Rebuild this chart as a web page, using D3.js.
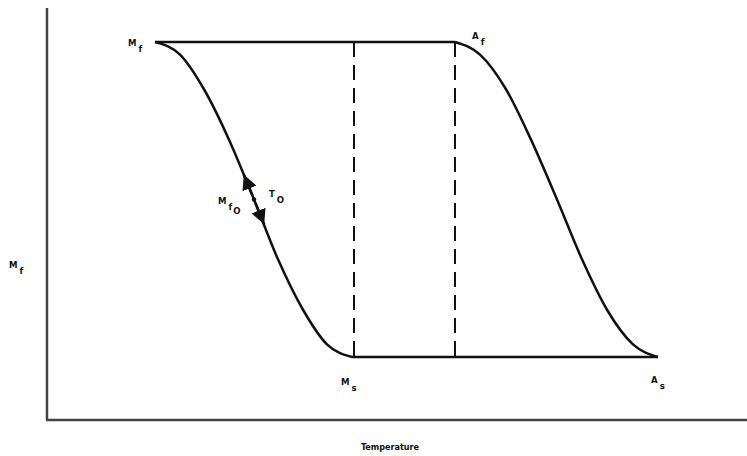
<!DOCTYPE html>
<html>
<head>
<meta charset="utf-8">
<script src="https://cdn.jsdelivr.net/npm/d3@7"></script>
<style>
  body { margin: 0; background: #fff; }
  text { font-family: "DejaVu Sans Condensed", "DejaVu Sans", sans-serif; font-weight: bold; fill: #111; }
</style>
</head>
<body>
<svg id="chart"></svg>
<script>
// temperature (arbitrary units) vs. martensite fraction
const coolTemp = [108, 133, 157, 182, 207, 231, 256, 280, 305];
const coolFrac = [1, 0.96, 0.85, 0.69, 0.5, 0.31, 0.15, 0.04, 0];
const heatTemp = [408, 433, 459, 484, 510, 535, 560, 586, 611];
const heatFrac = [1, 0.96, 0.85, 0.69, 0.5, 0.31, 0.15, 0.04, 0];
const dashTemp = [307, 408];
const pointNames = [
  { t: 108, f: 1, main: "M", sub: "f", dx: -27, dy: 4 },
  { t: 408, f: 1, main: "A", sub: "f", dx: 17, dy: -3 },
  { t: 305, f: 0, main: "M", sub: "s", dx: -11, dy: 28 },
  { t: 611, f: 0, main: "A", sub: "s", dx: -7, dy: 26 }
];

const width = 747;
const height = 456;
const svg = d3.select("#chart").attr("width", width).attr("height", height);

const x = d3.scaleLinear().domain([0, 700]).range([47, 747]);
const y = d3.scaleLinear().domain([0, 1]).range([357, 42]);

// axes (plain lines, no ticks)
svg.append("line")
  .attr("x1", x(0)).attr("x2", x(0))
  .attr("y1", y(1.108)).attr("y2", y(-0.2))
  .attr("stroke", "#444").attr("stroke-width", 2.5);
svg.append("line")
  .attr("x1", x(0) - 1).attr("x2", x(700))
  .attr("y1", y(-0.2)).attr("y2", y(-0.2))
  .attr("stroke", "#444").attr("stroke-width", 2.5);

const line = d3.line()
  .x(d => x(d[0]))
  .y(d => y(d[1]))
  .curve(d3.curveMonotoneX);

const cool = coolTemp.map((t, i) => [t, coolFrac[i]]);
const heat = heatTemp.map((t, i) => [t, heatFrac[i]]);

// dashed verticals
svg.selectAll(".dash")
  .data(dashTemp)
  .enter()
  .append("line")
  .attr("x1", d => x(d)).attr("x2", d => x(d))
  .attr("y1", y(1)).attr("y2", y(0))
  .attr("stroke", "#111").attr("stroke-width", 2)
  .attr("stroke-dasharray", "15,8");

// horizontal plateaus
svg.append("line")
  .attr("x1", x(coolTemp[0])).attr("x2", x(heatTemp[0]))
  .attr("y1", y(1)).attr("y2", y(1))
  .attr("stroke", "#111").attr("stroke-width", 2.5);
svg.append("line")
  .attr("x1", x(coolTemp[coolTemp.length - 1])).attr("x2", x(heatTemp[heatTemp.length - 1]))
  .attr("y1", y(0)).attr("y2", y(0))
  .attr("stroke", "#111").attr("stroke-width", 2.5);

// transformation curves
[cool, heat].forEach(c => {
  svg.append("path")
    .datum(c)
    .attr("d", line)
    .attr("fill", "none")
    .attr("stroke", "#111")
    .attr("stroke-width", 2.5);
});

// arrows at the middle of the cooling curve
const defs = svg.append("defs");
defs.append("marker")
  .attr("id", "arrow")
  .attr("viewBox", "0 0 10 10")
  .attr("refX", 10).attr("refY", 5)
  .attr("markerWidth", 6).attr("markerHeight", 6)
  .attr("markerUnits", "strokeWidth")
  .attr("orient", "auto")
  .append("path")
  .attr("d", "M0,0 L10,5 L0,10 Z")
  .attr("fill", "#111");

const mid = cool[4];
const mx = x(mid[0]), my = y(mid[1]);
const ang = Math.atan2(y(cool[5][1]) - y(cool[3][1]), x(cool[5][0]) - x(cool[3][0]));
const len = 27;
[-1, 1].forEach(s => {
  svg.append("line")
    .attr("x1", mx + s * 4 * Math.cos(ang)).attr("y1", my + s * 4 * Math.sin(ang))
    .attr("x2", mx + s * len * Math.cos(ang)).attr("y2", my + s * len * Math.sin(ang))
    .attr("stroke", "#111").attr("stroke-width", 2.5)
    .attr("marker-end", "url(#arrow)");
});
svg.append("circle").attr("cx", mx).attr("cy", my).attr("r", 2.2).attr("fill", "#111");

// labels with subscripts
function subLabel(px, py, main, sub, sub2) {
  const t = svg.append("text").attr("x", px).attr("y", py).attr("font-size", 9.5);
  t.append("tspan").text(main);
  t.append("tspan").attr("dx", 2).attr("dy", 6).text(sub);
  if (sub2) t.append("tspan").attr("dx", 1).attr("dy", 4).text(sub2);
}

pointNames.forEach(p => subLabel(x(p.t) + p.dx, y(p.f) + p.dy, p.main, p.sub));
subLabel(mx - 36, my + 4, "M", "f", "O");
subLabel(mx + 15, my - 3, "T", "O");
subLabel(9, 268, "M", "f");

svg.append("text")
  .attr("x", 390).attr("y", 450)
  .attr("text-anchor", "middle")
  .attr("font-size", 9)
  .text("Temperature");
</script>
</body>
</html>
